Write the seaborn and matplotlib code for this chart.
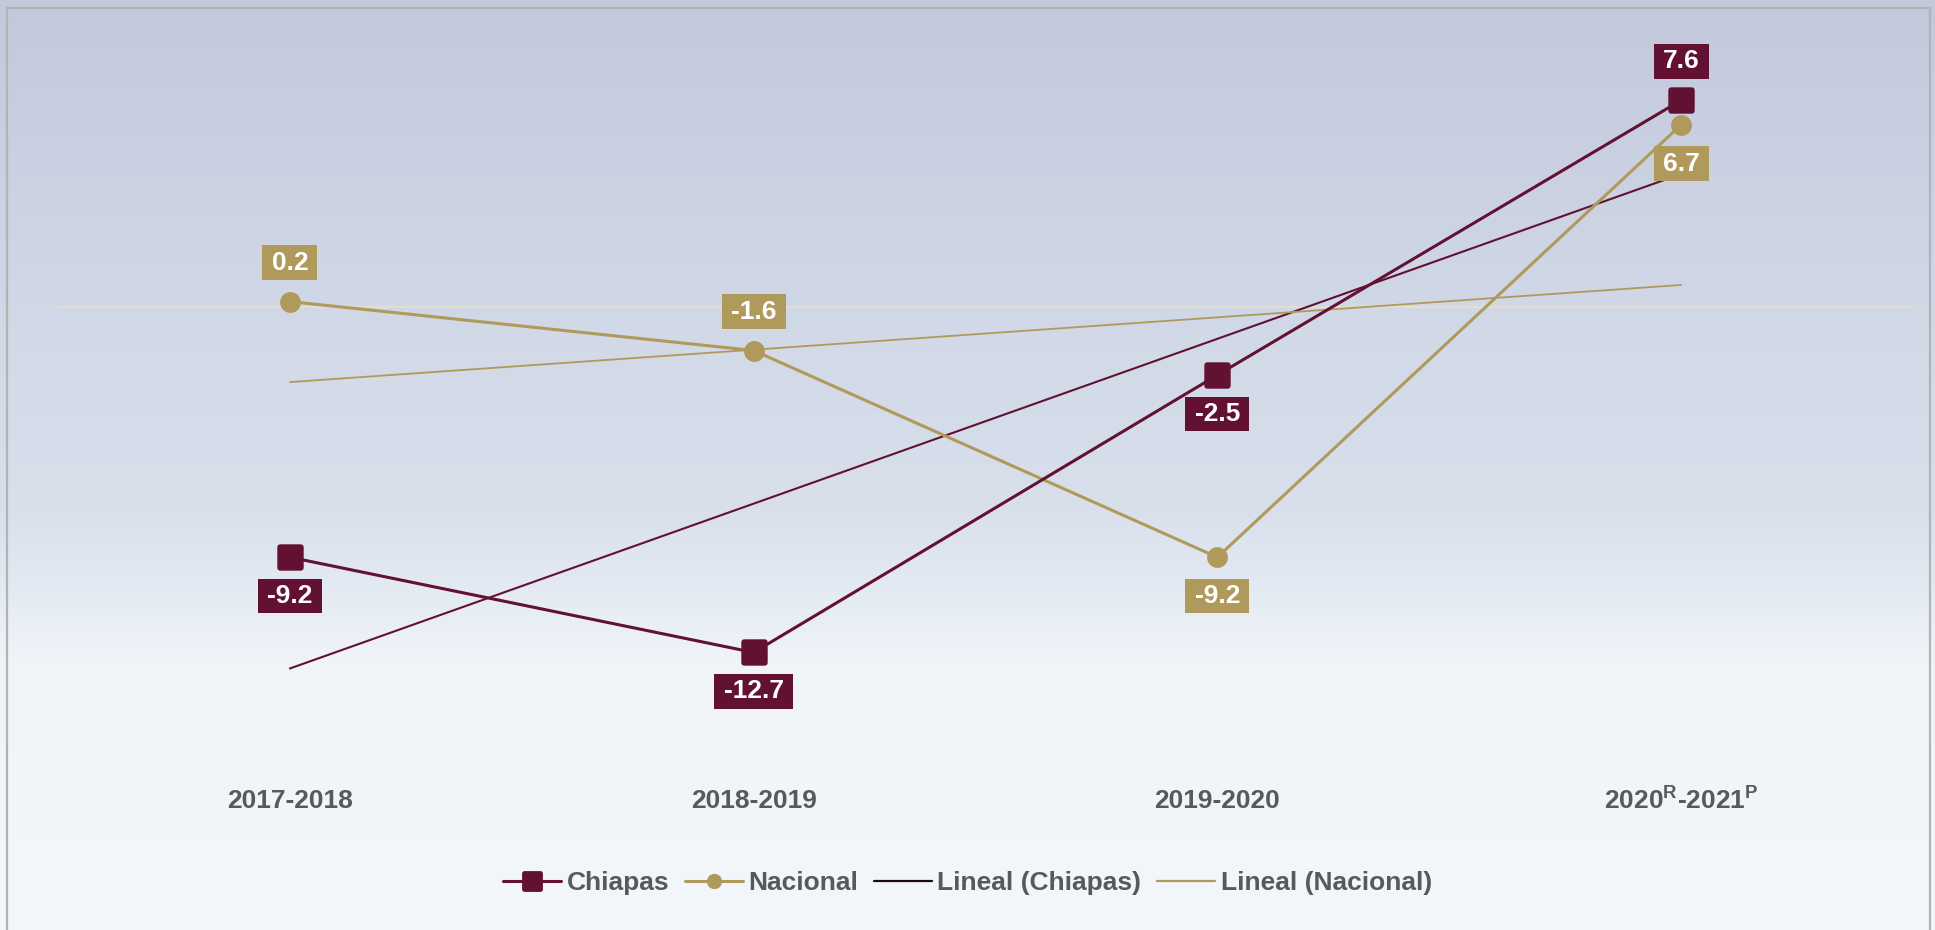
import numpy as np
import pandas as pd
import matplotlib
matplotlib.use("Agg")
import matplotlib.pyplot as plt
import seaborn as sns
from matplotlib.path import Path
from matplotlib.lines import Line2D
from matplotlib.patches import Rectangle
from matplotlib.colors import LinearSegmentedColormap

# ---------------- data ----------------
categories = ["2017-2018", "2018-2019", "2019-2020",
              r"2020$^{\mathregular{R}}$-2021$^{\mathregular{P}}$"]
chiapas = [-9.2, -12.7, -2.5, 7.6]
nacional = [0.2, -1.6, -9.2, 6.7]
chiapas_label_side = ["below", "below", "below", "above"]
nacional_label_side = ["above", "above", "below", "below"]
legend_labels = ["Chiapas", "Nacional", "Lineal (Chiapas)", "Lineal (Nacional)"]

# ---------------- style ----------------
sns.set_theme(style="white")
plt.rcParams["font.family"] = ["Liberation Sans", "DejaVu Sans"]
plt.rcParams["font.weight"] = "bold"
plt.rcParams["mathtext.fontset"] = "custom"
plt.rcParams["mathtext.rm"] = "Liberation Sans:bold"

MAROON = "#621132"
GOLD = "#B09A5B"
GRAY = "#595959"
FS = 19

# rounded-square marker
r = 0.25
rs_verts = [(-1 + r, -1), (1 - r, -1), (1, -1), (1, -1 + r), (1, 1 - r), (1, 1), (1 - r, 1),
            (-1 + r, 1), (-1, 1), (-1, 1 - r), (-1, -1 + r), (-1, -1), (-1 + r, -1), (-1 + r, -1)]
rs_codes = [Path.MOVETO, Path.LINETO, Path.CURVE3, Path.CURVE3, Path.LINETO, Path.CURVE3,
            Path.CURVE3, Path.LINETO, Path.CURVE3, Path.CURVE3, Path.LINETO, Path.CURVE3,
            Path.CURVE3, Path.CLOSEPOLY]
ROUND_SQ = Path(rs_verts, rs_codes)

W, H = 1935, 930
fig = plt.figure(figsize=(W / 100, H / 100), dpi=100)

# background gradient
bg = fig.add_axes([0, 0, 1, 1], zorder=-10)
stops = [(0.0, "#c3c9dc"), (0.3, "#cfd6e5"), (0.55, "#d9e0ec"),
         (0.65, "#e6ecf4"), (0.71, "#f0f4f9"), (1.0, "#f3f6fa")]
cmap = LinearSegmentedColormap.from_list("bg", stops)
grad = np.linspace(0, 1, 400).reshape(-1, 1)
bg.imshow(grad, aspect="auto", cmap=cmap, extent=[0, 1, 0, 1], origin="upper")
bg.set_axis_off()
fig.patches.append(Rectangle((7 / W, -0.05), (1930 - 7) / W, (H - 8) / H + 0.05,
                             transform=fig.transFigure, fill=False,
                             edgecolor="#b3b3b3", lw=1.6, zorder=5))

left, right, top, bottom = 58, 1913, 20, 770
ax = fig.add_axes([left / W, 1 - bottom / H, (right - left) / W, (bottom - top) / H])
ax.set_facecolor("none")

xpos = np.arange(len(categories))
df = pd.DataFrame({"x": np.concatenate([xpos, xpos]),
                   "value": chiapas + nacional,
                   "serie": ["Chiapas"] * 4 + ["Nacional"] * 4})

ax.axhline(0, color="#e3ded4", lw=1.6, zorder=1)

# trend lines
sns.regplot(x=xpos, y=chiapas, ax=ax, scatter=False, ci=None, truncate=True,
            line_kws=dict(color=MAROON, lw=1.5, zorder=2))
sns.regplot(x=xpos, y=nacional, ax=ax, scatter=False, ci=None, truncate=True,
            line_kws=dict(color=GOLD, lw=1.3, zorder=2))

# main series
sns.lineplot(data=df[df.serie == "Nacional"], x="x", y="value", ax=ax,
             color=GOLD, lw=2.2, marker="o", markersize=15, mec=GOLD, mew=0,
             zorder=3)
sns.lineplot(data=df[df.serie == "Chiapas"], x="x", y="value", ax=ax,
             color=MAROON, lw=2.2, marker=ROUND_SQ, markersize=19, mec=MAROON, mew=0,
             zorder=4)


def label_box(x0, y0, width, height, mutation_size):
    px = 0.35 * mutation_size
    py = 0.2 * mutation_size
    xa, ya, xb, yb = x0 - px, y0 - py, x0 + width + px, y0 + height + py
    return Path([(xa, ya), (xb, ya), (xb, yb), (xa, yb), (xa, ya)],
                [Path.MOVETO, Path.LINETO, Path.LINETO, Path.LINETO, Path.CLOSEPOLY])


def add_labels(values, sides, color):
    for xi, v, s in zip(xpos, values, sides):
        dy = 28 if s == "above" else -28
        ax.annotate(f"{v:.1f}", (xi, v), xytext=(0, dy), textcoords="offset points",
                    ha="center", va="center", fontsize=FS, fontweight="bold",
                    color="white", zorder=6,
                    bbox=dict(boxstyle=label_box, fc=color, ec="none"))


add_labels(chiapas, chiapas_label_side, MAROON)
add_labels(nacional, nacional_label_side, GOLD)

zero_px = 307
scale = 27.2
ax.set_ylim(-(bottom - zero_px) / scale, (zero_px - top) / scale)
ax.set_xlim(-0.5, len(categories) - 0.5)
ax.set_xticks(xpos)
ax.set_xticklabels(categories, fontsize=FS, fontweight="bold", color=GRAY)
ax.tick_params(axis="x", length=0, pad=27.5)
for t in ax.get_xticklabels():
    t.set_verticalalignment("baseline")
ax.set_yticks([])
ax.set_xlabel("")
ax.set_ylabel("")
for sp in ax.spines.values():
    sp.set_visible(False)

handles = [
    Line2D([], [], color=MAROON, lw=2.2, marker=ROUND_SQ, markersize=15, mew=0),
    Line2D([], [], color=GOLD, lw=2.2, marker="o", markersize=11, mew=0),
    Line2D([], [], color="#1e0810", lw=1.6),
    Line2D([], [], color=GOLD, lw=1.6),
]
fig.legend(handles, legend_labels, loc="center", bbox_to_anchor=(0.5, (H - 883) / H),
           ncol=4, frameon=False, prop=dict(size=FS, weight="bold"),
           labelcolor=GRAY, handlelength=2.2, handletextpad=0.2, columnspacing=0.6)

fig.savefig("out.png", dpi=100)
